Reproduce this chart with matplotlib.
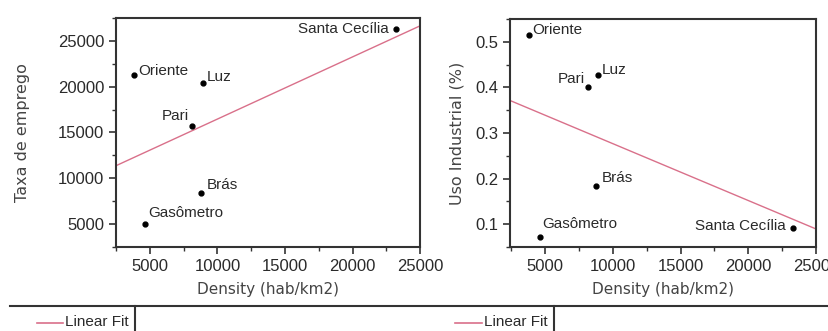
import numpy as np
import matplotlib
matplotlib.use('Agg')
import matplotlib.pyplot as plt
from matplotlib.lines import Line2D
from matplotlib.ticker import MultipleLocator

plt.rcParams['font.family'] = ['Liberation Sans', 'DejaVu Sans']

# Data
bairros = ['Santa Cecília', 'Oriente', 'Luz', 'Pari', 'Brás', 'Gasômetro']
dens_emp = [23200, 3800, 8940, 8130, 8820, 4670]
taxa_emprego = [26300, 21300, 20440, 15740, 8360, 5000]
dens_ind = [23270, 3820, 8870, 8130, 8760, 4610]
uso_industrial = [0.092, 0.516, 0.427, 0.400, 0.184, 0.072]

# label offsets (points) and alignment per bairro, left / right panel
offs_left = {'Santa Cecília': (-5, 0, 'right'),
             'Oriente': (3, 3, 'left'),
             'Luz': (3, 4, 'left'),
             'Pari': (-2, 7, 'right'),
             'Brás': (4, 6, 'left'),
             'Gasômetro': (2, 8, 'left')}
offs_right = {'Santa Cecília': (-5, 1, 'right'),
              'Oriente': (2, 3, 'left'),
              'Luz': (3, 4, 'left'),
              'Pari': (-2, 6, 'right'),
              'Brás': (4, 6, 'left'),
              'Gasômetro': (2, 9, 'left')}

fit_color = '#d9708a'
dark = '#333333'
txt = '#2a2a2a'


def style_axes(ax):
    for s in ax.spines.values():
        s.set_linewidth(1.5)
        s.set_color(dark)
    ax.tick_params(which='major', direction='out', length=5, width=1.2,
                   color=dark, labelcolor=txt, labelsize=12)
    ax.tick_params(which='minor', direction='out', length=3, width=1.0, color=dark)


def panel(ax, x, y, xlim, ylim, offs, ylabel):
    coef = np.polyfit(x, y, 1)
    xs = np.linspace(xlim[0], xlim[1], 50)
    ax.plot(xs, np.polyval(coef, xs), color=fit_color, lw=1.0)
    ax.plot(x, y, 'o', color='black', ms=3.5)
    for name, xi, yi in zip(bairros, x, y):
        dx, dy, ha = offs[name]
        ax.annotate(name, (xi, yi), xytext=(dx, dy), textcoords='offset points',
                    ha=ha, va='center', fontsize=11, color=txt)
    ax.set_xlim(xlim)
    ax.set_ylim(ylim)
    ax.set_xticks([5000, 10000, 15000, 20000, 25000])
    ax.xaxis.set_minor_locator(MultipleLocator(2500))
    ax.set_xlabel('Density (hab/km2)', fontsize=11, family='DejaVu Sans',
                  color='#444444')
    ax.set_ylabel(ylabel, fontsize=11.5, family='DejaVu Sans', color='#444444')
    ax.xaxis.set_label_coords(0.5, -0.153)
    style_axes(ax)


fig = plt.figure(figsize=(8.29, 3.31), dpi=100)

ax1 = fig.add_axes([0.140, 0.2538, 0.3667, 0.6918])
panel(ax1, dens_emp, taxa_emprego, (2500, 25000), (2500, 27500), offs_left,
      'Taxa de emprego')
ax1.set_yticks([5000, 10000, 15000, 20000, 25000])
ax1.yaxis.set_minor_locator(MultipleLocator(2500))
ax1.yaxis.set_label_coords(-0.283, 0.5)

ax2 = fig.add_axes([0.6152, 0.2538, 0.3691, 0.6888])
panel(ax2, dens_ind, uso_industrial, (2400, 25000), (0.05, 0.55), offs_right,
      'Uso Industrial (%)')
ax2.set_yticks([0.1, 0.2, 0.3, 0.4, 0.5])
ax2.yaxis.set_minor_locator(MultipleLocator(0.05))
ax2.yaxis.set_label_coords(-0.148, 0.5)

# legend strip at the bottom
W, H = 829, 331
fig.add_artist(Line2D([10 / W, 1], [1 - 306 / H] * 2, color=dark, lw=1.5))
for vx in (135, 554):
    fig.add_artist(Line2D([vx / W] * 2, [0, 1 - 306 / H], color=dark, lw=1.5))
for x0, x1 in ((37, 63), (455, 482)):
    fig.add_artist(Line2D([x0 / W, x1 / W], [1 - 322.5 / H] * 2, color=fit_color, lw=1.2))
    fig.text((x1 + 2) / W, 1 - 322.5 / H, 'Linear Fit', ha='left', va='center',
             fontsize=11, color=txt)

fig.savefig('out.png', dpi=100)
